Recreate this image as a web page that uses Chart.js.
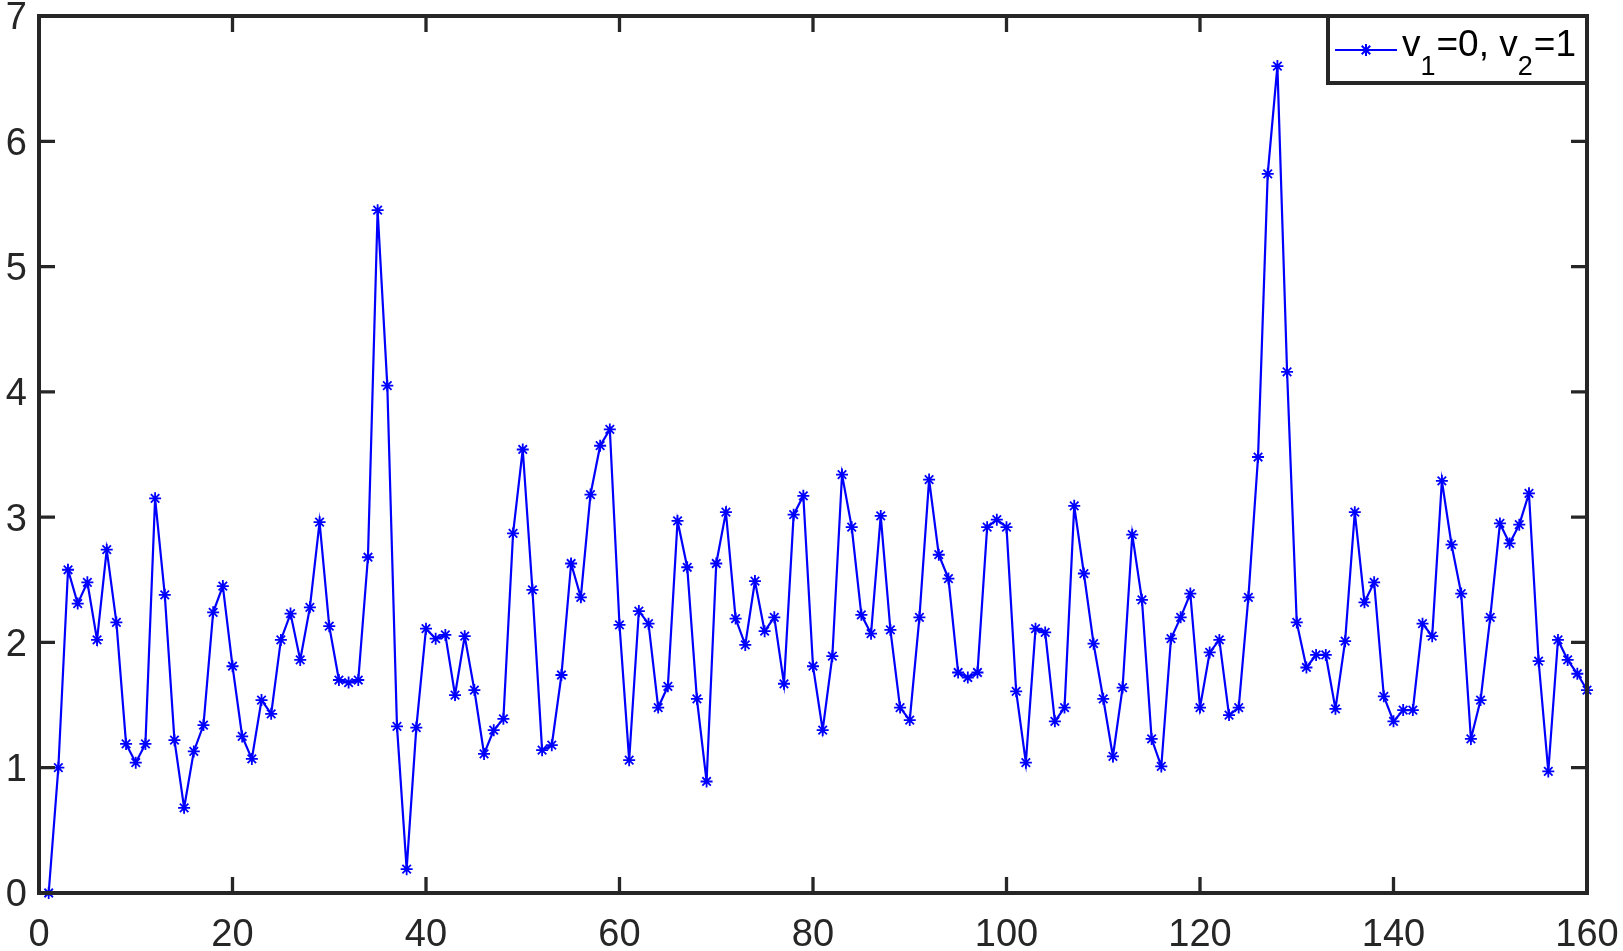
<!DOCTYPE html>
<html>
<head>
<meta charset="utf-8">
<script src="https://cdn.jsdelivr.net/npm/chart.js@4"></script>
<style>
html, body { margin: 0; padding: 0; background: #fff; }
#wrap { width: 1623px; height: 951px; }
</style>
</head>
<body>
<div id="wrap"><canvas id="myChart" width="1623" height="951"></canvas></div>
<script>
var steps = [
  1, 2, 3, 4, 5, 6, 7, 8, 9, 10,
  11, 12, 13, 14, 15, 16, 17, 18, 19, 20,
  21, 22, 23, 24, 25, 26, 27, 28, 29, 30,
  31, 32, 33, 34, 35, 36, 37, 38, 39, 40,
  41, 42, 43, 44, 45, 46, 47, 48, 49, 50,
  51, 52, 53, 54, 55, 56, 57, 58, 59, 60,
  61, 62, 63, 64, 65, 66, 67, 68, 69, 70,
  71, 72, 73, 74, 75, 76, 77, 78, 79, 80,
  81, 82, 83, 84, 85, 86, 87, 88, 89, 90,
  91, 92, 93, 94, 95, 96, 97, 98, 99, 100,
  101, 102, 103, 104, 105, 106, 107, 108, 109, 110,
  111, 112, 113, 114, 115, 116, 117, 118, 119, 120,
  121, 122, 123, 124, 125, 126, 127, 128, 129, 130,
  131, 132, 133, 134, 135, 136, 137, 138, 139, 140,
  141, 142, 143, 144, 145, 146, 147, 148, 149, 150,
  151, 152, 153, 154, 155, 156, 157, 158, 159, 160
];
var values = [
  0.00, 1.00, 2.58, 2.31, 2.48, 2.02, 2.74, 2.16, 1.19, 1.04,
  1.19, 3.15, 2.38, 1.22, 0.68, 1.13, 1.34, 2.24, 2.45, 1.81,
  1.25, 1.07, 1.54, 1.43, 2.02, 2.23, 1.86, 2.28, 2.96, 2.13,
  1.70, 1.68, 1.70, 2.68, 5.45, 4.05, 1.33, 0.19, 1.32, 2.11,
  2.03, 2.06, 1.58, 2.05, 1.62, 1.11, 1.30, 1.39, 2.87, 3.54,
  2.42, 1.14, 1.18, 1.74, 2.63, 2.36, 3.18, 3.57, 3.70, 2.14,
  1.06, 2.25, 2.15, 1.48, 1.65, 2.97, 2.60, 1.55, 0.89, 2.63,
  3.04, 2.19, 1.98, 2.49, 2.09, 2.20, 1.67, 3.02, 3.17, 1.81,
  1.30, 1.89, 3.34, 2.92, 2.22, 2.07, 3.01, 2.10, 1.48, 1.38,
  2.20, 3.30, 2.70, 2.51, 1.76, 1.72, 1.76, 2.92, 2.98, 2.92,
  1.61, 1.04, 2.11, 2.08, 1.37, 1.48, 3.09, 2.55, 1.99, 1.55,
  1.09, 1.64, 2.86, 2.34, 1.23, 1.01, 2.03, 2.20, 2.39, 1.48,
  1.92, 2.02, 1.42, 1.48, 2.36, 3.48, 5.74, 6.60, 4.16, 2.16,
  1.80, 1.90, 1.90, 1.47, 2.01, 3.04, 2.32, 2.48, 1.57, 1.37,
  1.46, 1.46, 2.15, 2.05, 3.29, 2.78, 2.39, 1.23, 1.54, 2.20,
  2.95, 2.79, 2.94, 3.19, 1.85, 0.97, 2.02, 1.86, 1.75, 1.62
];
var xTicks = [0, 20, 40, 60, 80, 100, 120, 140, 160];
var yTicks = [0, 1, 2, 3, 4, 5, 6, 7];
// legend text, pieces with sub=true are subscripts
var legendText = [
  { t: 'v' }, { t: '1', sub: true }, { t: '=0, v' }, { t: '2', sub: true }, { t: '=1' }
];

var axisColor = '#262626';
var lineColor = '#0000ff';
var fontFamily = '"Liberation Sans", Arial, Helvetica, sans-serif';

// MATLAB-like box with inward ticks on all four sides
var boxAxes = {
  id: 'boxAxes',
  afterDatasetsDraw: function(chart) {
    var c = chart.ctx, a = chart.chartArea;
    var xs = chart.scales.x, ys = chart.scales.y;
    var len = 16;
    c.save();
    c.strokeStyle = axisColor;
    c.lineWidth = 3.3;
    c.beginPath();
    xTicks.forEach(function(v) {
      var px = xs.getPixelForValue(v);
      c.moveTo(px, a.bottom); c.lineTo(px, a.bottom - len);
      c.moveTo(px, a.top); c.lineTo(px, a.top + len);
    });
    yTicks.forEach(function(v) {
      var py = ys.getPixelForValue(v);
      c.moveTo(a.left, py); c.lineTo(a.left + len, py);
      c.moveTo(a.right, py); c.lineTo(a.right - len, py);
    });
    c.stroke();
    c.lineWidth = 4;
    c.strokeRect(a.left, a.top, a.right - a.left, a.bottom - a.top);
    c.restore();
  }
};

var boxLegend = {
  id: 'boxLegend',
  afterDraw: function(chart) {
    var c = chart.ctx, a = chart.chartArea;
    var w = 259, h = 67;
    var x0 = a.right - w, y0 = a.top;
    c.save();
    c.fillStyle = '#fff';
    c.fillRect(x0, y0, w, h);
    c.strokeStyle = axisColor;
    c.lineWidth = 4;
    c.strokeRect(x0, y0, w, h);
    // sample line + star marker
    var ly = y0 + 34;
    c.strokeStyle = lineColor;
    c.lineWidth = 2;
    c.beginPath();
    c.moveTo(x0 + 7, ly); c.lineTo(x0 + 69, ly);
    c.stroke();
    Chart.helpers.drawPoint(c, { pointStyle: 'star', radius: 6, borderWidth: 1.5 }, x0 + 38, ly);
    // text
    var tx = x0 + 74, base = y0 + 40;
    c.fillStyle = '#000';
    c.textBaseline = 'alphabetic';
    legendText.forEach(function(p) {
      c.font = (p.sub ? '27px ' : '37px ') + fontFamily;
      c.fillText(p.t, tx, p.sub ? base + 19 : base);
      tx += c.measureText(p.t).width + (p.sub ? 1 : 0);
    });
    c.restore();
  }
};

var ctx = document.getElementById('myChart').getContext('2d');

new Chart(ctx, {
  type: 'line',
  data: {
    labels: steps,
    datasets: [{
      label: 'v1=0, v2=1',
      data: values,
      borderColor: lineColor,
      backgroundColor: lineColor,
      borderWidth: 2.2,
      pointStyle: 'star',
      pointRadius: 6,
      pointBorderWidth: 1.8,
      pointBorderColor: lineColor,
      tension: 0,
      clip: false
    }]
  },
  options: {
    responsive: false,
    animation: false,
    layout: { padding: { top: 16, right: 36, left: 0, bottom: 0 } },
    plugins: {
      legend: { display: false },
      tooltip: { enabled: false }
    },
    scales: {
      x: {
        type: 'linear',
        min: 0,
        max: 160,
        grid: { display: false, drawTicks: false },
        border: { display: false },
        afterBuildTicks: function(s) { s.ticks = xTicks.map(function(v) { return { value: v }; }); },
        afterFit: function(s) { s.height = 58; s.paddingLeft = 0; s.paddingRight = 0; },
        ticks: {
          color: axisColor,
          font: { family: fontFamily, size: 38 },
          padding: 20,
          maxRotation: 0,
          autoSkip: false
        }
      },
      y: {
        min: 0,
        max: 7,
        grid: { display: false, drawTicks: false },
        border: { display: false },
        afterBuildTicks: function(s) { s.ticks = yTicks.map(function(v) { return { value: v }; }); },
        afterFit: function(s) { s.width = 39; s.paddingTop = 0; s.paddingBottom = 0; },
        ticks: {
          color: axisColor,
          font: { family: fontFamily, size: 38 },
          padding: 12,
          labelOffset: 3,
          autoSkip: false
        }
      }
    }
  },
  plugins: [boxAxes, boxLegend]
});
</script>
</body>
</html>
